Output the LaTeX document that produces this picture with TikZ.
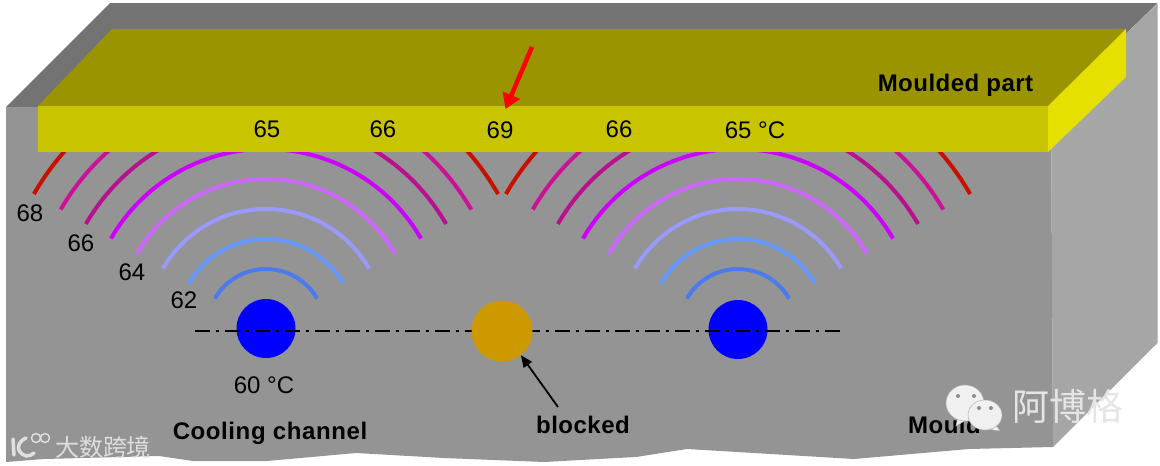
\documentclass[tikz,border=0pt]{standalone}
\usepackage{fontspec}
\setmainfont{Liberation Sans}
\newfontfamily\cjk{Noto Sans CJK SC}
\newfontfamily\medfont[LetterSpace=2]{Liberation Sans Bold}
\newfontfamily\medwide[LetterSpace=2.5]{Liberation Sans Bold}
\usetikzlibrary{arrows.meta}
\definecolor{mfront}{HTML}{949494}
\definecolor{mtop}{HTML}{737373}
\definecolor{mside}{HTML}{A6A6A6}
\definecolor{pfront}{HTML}{C8C400}
\definecolor{ptop}{HTML}{9A9400}
\definecolor{pside}{HTML}{E6E000}
\definecolor{blockedc}{HTML}{CC9900}
\definecolor{aA}{HTML}{4A7AEE}
\definecolor{aB}{HTML}{6699FF}
\definecolor{aC}{HTML}{9999FF}
\definecolor{aD}{HTML}{CC66FF}
\definecolor{aE}{HTML}{CC00FF}
\definecolor{aF}{HTML}{B8108F}
\definecolor{aG}{HTML}{CC1199}
\definecolor{aH}{HTML}{C81000}
\tikzset{
  x=1pt,y=-1pt,
  lbl/.style={inner sep=0pt,font=\fontsize{24}{28}\selectfont,text=black},
  blbl/.style={inner sep=0pt,font=\medfont\fontsize{24}{28}\selectfont,text=black},
  ringarc/.style={line width=4pt},
  channel/.style={circle,fill=blue,minimum size=59pt,inner sep=0pt},
  wmark/.style={inner sep=0pt,text=#1},
  bubble/.style={fill=black!6,draw=black!30,line width=.5pt},
  logostroke/.style={draw=black!12,line cap=round},
}
\newcommand{\ringarc}[2]{%
  \draw[ringarc,#2] (30:#1pt) arc[start angle=30,end angle=150,radius=#1pt];}
\begin{document}
\begin{tikzpicture}
\useasboundingbox (0,0) rectangle (1160,466);
% mould
\fill[mside] (1051,107) -- (1157.5,3.5) -- (1157.5,343) -- (1053,447) -- cycle;
\fill[mtop] (6,107) -- (110,3) -- (1157.5,3) -- (1051,107) -- cycle;
\fill[mfront] (6,107) -- (1051,107) -- (1053,447) -- (969,449) -- (854,459) -- (687,449) -- (636,457) -- (580,460) -- (544,462) -- (444,458) -- (356,453) -- (267,461) -- (193,461) -- (159,456) -- (44,459) -- (6,462) -- cycle;
% isotherm arcs
\foreach \cx in {266,738}{
  \begin{scope}[shift={(\cx,328)}]
    \ringarc{59}{aA}
    \ringarc{89}{aB}
    \ringarc{119}{aC}
    \ringarc{149}{aD}
    \ringarc{179}{aE}
    \ringarc{208}{aF}
    \ringarc{237}{aG}
    \ringarc{268}{aH}
  \end{scope}
}
% moulded part
\fill[ptop] (38,106) -- (112,29) -- (1126,29) -- (1048,106) -- cycle;
\fill[pfront] (38,106) rectangle (1048,152);
\fill[pside] (1048,106) -- (1126,29) -- (1126,77) -- (1048,152) -- cycle;
% channels
\node[channel] (c1) at (266,328.5) {};
\node[channel] (c2) at (738,329.5) {};
\coordinate (axisL) at (195,330.7);
\coordinate (axisR) at (842,330.7);
\draw[black,line width=2pt,dash pattern=on 15pt off 6pt on 3pt off 6pt] (axisL) -- (axisR);
\node[circle,fill=blockedc,minimum size=61pt,inner sep=0pt] (c3) at (502,331) {};
% labels
\node[lbl] (t65a) at (267,129) {65};
\node[lbl] (t66a) at (383,129) {66};
\node[lbl] (t69) at (500,130) {69};
\node[lbl] (t66b) at (619,129) {66};
\node[lbl] (t65b) at (755,130) {65 °C};
\node[lbl] (t68) at (30,213) {68};
\node[lbl] (t66c) at (81,243) {66};
\node[lbl] (t64) at (132,272) {64};
\node[lbl] (t62) at (184,300) {62};
\node[lbl] (t60) at (264,385) {60 °C};
\node[blbl] (part) at (955.5,85) {Moulded part};
\node[blbl,font=\medwide\fontsize{24}{28}\selectfont] (cool) at (270,433) {Cooling channel};
\node[blbl] (blocked) at (583,425) {blocked};
\node[blbl,anchor=west] (mould) at (908,425) {Mould};
% arrows
\coordinate (redstart) at (532,47);
\coordinate (redtip) at (505.5,109);
\draw[red,line width=4.5pt,-{Triangle[length=15pt,width=18pt]}] (redstart) -- (redtip);
\coordinate (bstart) at (558,407);
\draw[black,line width=1.8pt,-{Triangle[length=12pt,width=10pt]}] (bstart) -- (c3.-52);
% wechat watermark
\filldraw[bubble] (958,417) -- (956,426) -- (966,420) -- cycle;
\filldraw[bubble] (965,403) ellipse[x radius=19pt,y radius=18pt];
\fill[black!45] (958,396) circle[radius=2pt] (974,396) circle[radius=2pt];
\filldraw[bubble] (995,424) -- (1000,431) -- (988,429) -- cycle;
\filldraw[bubble] (985,415) ellipse[x radius=17pt,y radius=15pt];
\fill[black!45] (979,408) circle[radius=2pt] (991,408) circle[radius=2pt];
\node[wmark=black!10,font=\cjk\fontsize{37}{40}\selectfont] (wm1) at (1067.5,406) {阿博格};
% bottom-left watermark
\draw[logostroke,line width=3.5pt] (13,439) -- (14,455);
\draw[logostroke,line width=3.5pt] (26,438) .. controls (17,442) and (15,452) .. (26,456) .. controls (29,456) and (32,455) .. (34,453);
\draw[draw=black!12,line width=1.4pt] (36,438) circle[radius=4.5pt] (45,438) circle[radius=4.5pt];
\node[wmark=black!13,font=\cjk\fontsize{24}{28}\selectfont] (wm2) at (103,447) {大数跨境};
\end{tikzpicture}
\end{document}
